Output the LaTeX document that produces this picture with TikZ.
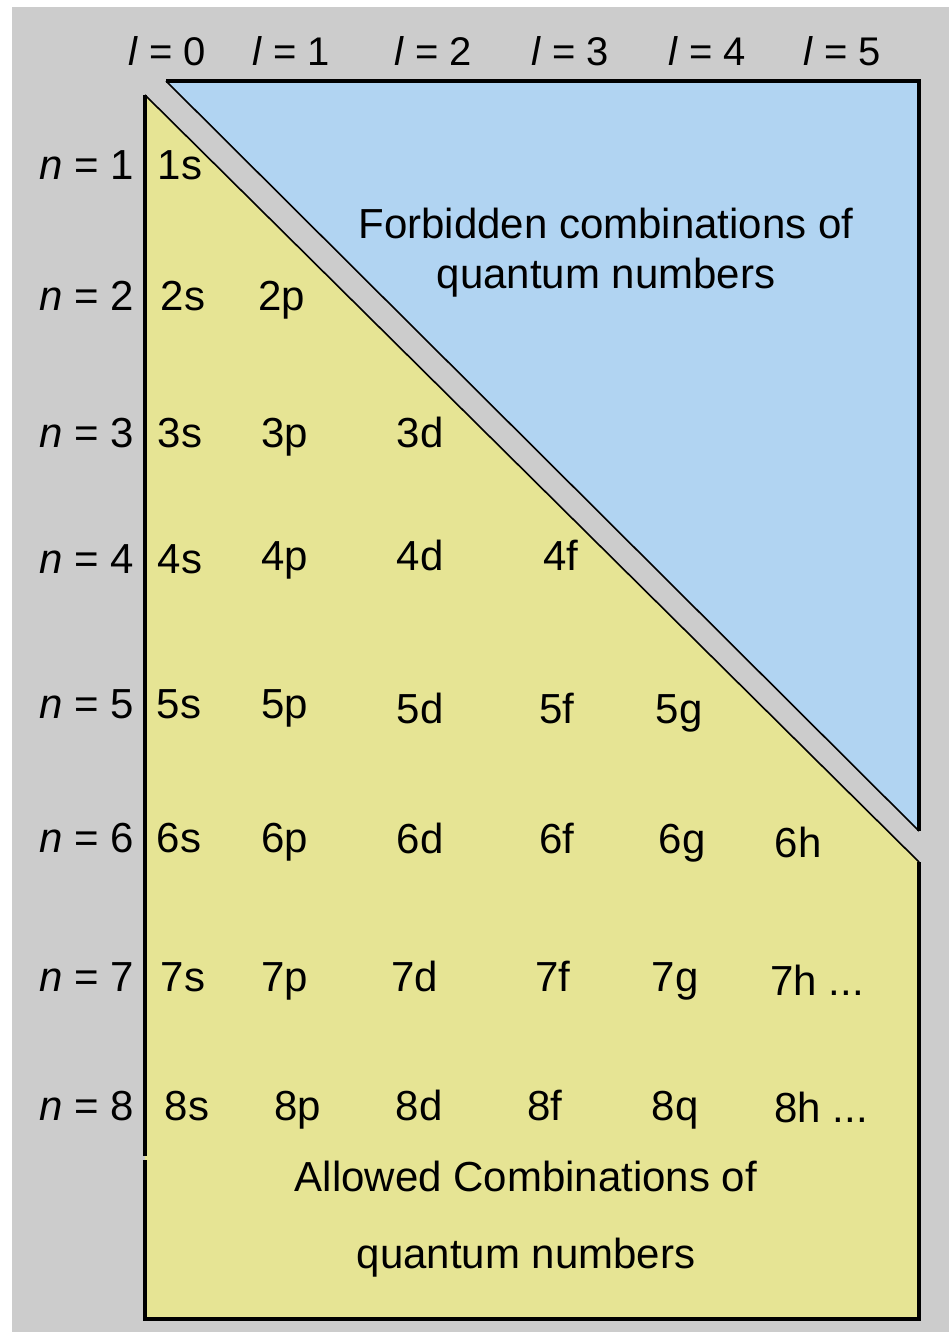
\documentclass[tikz,border=0pt]{standalone}
\usepackage{fontspec}
\setmainfont{Liberation Sans}
\definecolor{panel}{RGB}{204,204,204}
\definecolor{allowed}{RGB}{230,228,148}
\definecolor{forbidden}{RGB}{177,212,242}
\begin{document}
\begin{tikzpicture}[x=1pt,y=-1pt,
  lab/.style={font=\fontsize{40}{42}\selectfont,inner sep=0pt,anchor=base},
  qn/.style={font=\fontsize{42}{44}\selectfont,inner sep=0pt,anchor=base east},
  orb/.style={font=\fontsize{42}{44}\selectfont,inner sep=0pt,anchor=base},
  rim/.style={line width=4pt},
  cut/.style={line width=1.6pt}]
\useasboundingbox[fill=white] (0,0) rectangle (949,1332);
\fill[panel] (12,7) rectangle (949,1332);
% allowed and forbidden regions
\fill[allowed] (145,95) -- (919,862) -- (919,1319) -- (145,1319) -- cycle;
\fill[forbidden] (166,81) -- (919,81) -- (919,831) -- cycle;
\draw[rim] (919,862) -- (919,1319) -- (145,1319) -- (145,1160);
\draw[rim] (145,1156) -- (145,95);
\draw[cut] (145,95) -- (919,862);
\draw[rim] (166,81) -- (919,81) -- (919,831);
\draw[cut] (166,81) -- (919,831);
% l labels
\foreach \l/\x in {0/167,1/291,2/433,3/570,4/707,5/842}
  \node[lab] (l\l) at (\x,66) {\textit{l} = \l};
% n labels
\foreach \n/\y in {1/180,2/310,3/447,4/573,5/718,6/852,7/991,8/1120}
  \node[qn] (n\n) at (134,\y) {\textit{n} = \n};
% orbitals
\foreach \o/\x/\y in {1s/180/180,
    2s/183/310,2p/282/310,
    3s/180/447,3p/285/447,3d/420/447,
    4s/180/573,4p/285/570,4d/420/570,4f/561/570,
    5s/179/718,5p/285/718,5d/420/723,5f/557/723,5g/679/723,
    6s/179/852,6p/285/852,6d/420/853,6f/557/853,6g/682/853,6h/798/857,
    7s/183/991,7p/285/991,7d/415/991,7f/553/991,7g/675/991,
    8s/187/1120,8p/298/1120,8d/419/1120,8f/545/1120,8q/675/1120}
  \node[orb] (o\o) at (\x,\y) {\o};
\node[orb] (o7h) at (817,995) {7h ...};
\node[orb] (o8h) at (821,1122) {8h ...};
% region captions (base = last line)
\node[lab,align=center,font=\fontsize{42}{50}\selectfont] (forbid) at (606,288)
  {Forbidden combinations of\\quantum numbers};
\node[orb,align=center,font=\fontsize{42}{77}\selectfont] (allow) at (526,1268)
  {Allowed Combinations of\\quantum numbers};
\end{tikzpicture}
\end{document}
